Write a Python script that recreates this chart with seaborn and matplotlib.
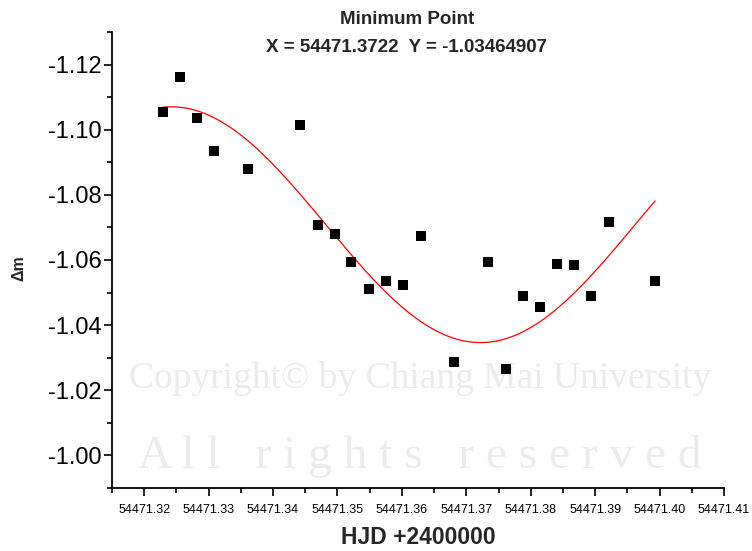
import numpy as np
import pandas as pd
import matplotlib
matplotlib.use("Agg")
import matplotlib.pyplot as plt
from matplotlib.ticker import FixedLocator, MultipleLocator, FormatStrFormatter
import seaborn as sns

# Observed differential magnitudes around the minimum (HJD - 2400000)
hjd = [54471.3229, 54471.3255, 54471.3282, 54471.3309, 54471.3361, 54471.3442,
       54471.3469, 54471.3496, 54471.3521, 54471.3549, 54471.3575, 54471.3602,
       54471.3629, 54471.3681, 54471.3734, 54471.3761, 54471.3788, 54471.3814,
       54471.3841, 54471.3867, 54471.3894, 54471.3921, 54471.3993]
dmag = [-1.1055, -1.1163, -1.1036, -1.0934, -1.0880, -1.1015,
        -1.0707, -1.0680, -1.0595, -1.0511, -1.0537, -1.0522,
        -1.0674, -1.0286, -1.0593, -1.0266, -1.0490, -1.0457,
        -1.0589, -1.0586, -1.0489, -1.0718, -1.0534]

# Sine fit: minimum point, amplitude and half-period of the fitted curve
min_x = 54471.3722
min_y = -1.03464907
fit_amp = 0.0362
fit_half_period = 0.0480

x_ticks = [54471.32, 54471.33, 54471.34, 54471.35, 54471.36,
           54471.37, 54471.38, 54471.39, 54471.40, 54471.41]
y_ticks = [-1.12, -1.10, -1.08, -1.06, -1.04, -1.02, -1.00]

watermark_lines = ["Copyright\u00a9 by Chiang Mai University",
                   "A l l   r i g h t s   r e s e r v e d"]

sns.set_style("ticks")
plt.rcParams["font.family"] = ["Liberation Sans", "DejaVu Sans"]
plt.rcParams["axes.unicode_minus"] = False

df = pd.DataFrame({"hjd": hjd, "dmag": dmag})
fit_x = np.linspace(hjd[0], hjd[-1], 400)
fit_y = (min_y - fit_amp) + fit_amp * np.cos(np.pi * (fit_x - min_x) / fit_half_period)
fit_df = pd.DataFrame({"hjd": fit_x, "dmag": fit_y})

fig = plt.figure(figsize=(7.52, 5.51), dpi=100)
fig.patch.set_facecolor("white")

# faint copyright watermark on a background layer behind the plot
bg = fig.add_axes([0, 0, 1, 1], zorder=-1)
bg.axis("off")
serif = ["Liberation Serif", "DejaVu Serif"]
bg.text(420 / 752, 1 - 388 / 551, watermark_lines[0], family=serif, fontsize=27,
        color="#ebebeb", ha="center", va="baseline", transform=bg.transAxes)
bg.text(420 / 752, 1 - 468 / 551, watermark_lines[1], family=serif, fontsize=34,
        color="#ebebeb", ha="center", va="baseline", transform=bg.transAxes)

ax = fig.add_axes([112 / 752, 1 - 488 / 551, 612 / 752, 456 / 551], zorder=1)
ax.set_facecolor("none")

sns.scatterplot(data=df, x="hjd", y="dmag", marker="s", color="black",
                s=48, linewidth=0, ax=ax, zorder=3)
sns.lineplot(data=fit_df, x="hjd", y="dmag", color="#ff0000", linewidth=0.9,
             ax=ax, zorder=2, sort=False)

ax.set_xlim(54471.315, 54471.41)
ax.set_ylim(-0.99, -1.13)
ax.xaxis.set_major_locator(FixedLocator(x_ticks))
ax.xaxis.set_minor_locator(MultipleLocator(0.005))
ax.xaxis.set_major_formatter(FormatStrFormatter("%.2f"))
ax.yaxis.set_major_locator(FixedLocator(y_ticks))
ax.yaxis.set_minor_locator(MultipleLocator(0.01))
ax.yaxis.set_major_formatter(FormatStrFormatter("%.2f"))

for side in ("top", "right"):
    ax.spines[side].set_visible(False)
for side in ("left", "bottom"):
    ax.spines[side].set_linewidth(1.3)
    ax.spines[side].set_color("black")

ax.tick_params(which="major", direction="out", length=5.5, width=1.2, color="black")
ax.tick_params(which="minor", direction="out", length=3.5, width=1.2, color="black")
ax.tick_params(axis="y", labelsize=17, pad=2, labelcolor="black")
ax.tick_params(axis="x", labelsize=9, pad=6, labelcolor="black")
ax.set_xlabel("")
ax.set_ylabel("")

fig.text(407 / 752, 1 - 20 / 551, "Minimum Point", fontsize=13.5,
         fontweight="bold", ha="center", va="center")
fig.text(407 / 752, 1 - 47 / 551, f"X = {min_x:.4f}  Y = {min_y:.8f}",
         fontsize=13.5, fontweight="bold", ha="center", va="center")
fig.text(418 / 752, 1 - 537 / 551, "HJD +2400000", fontsize=16.5,
         fontweight="bold", ha="center", va="center")
fig.text(19 / 752, 1 - 268 / 551, "\u0394m", fontsize=11.5, fontweight="bold",
         rotation=90, ha="center", va="center")

fig.savefig("out.png", dpi=100, facecolor="white")
